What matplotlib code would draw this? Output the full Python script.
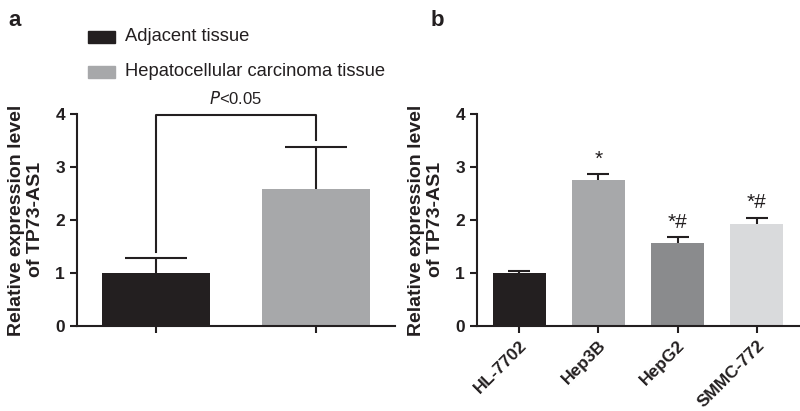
import matplotlib.pyplot as plt
import numpy as np

plt.rcParams['font.family'] = ['Liberation Sans', 'DejaVu Sans']

# panel a
tissues = ["Adjacent tissue", "Hepatocellular carcinoma tissue"]
tissue_mean = [1.0, 2.58]
tissue_err = [0.28, 0.79]
tissue_colors = ["#231f20", "#a7a8aa"]

# panel b
cell_lines = ["HL-7702", "Hep3B", "HepG2", "SMMC-772"]
cell_mean = [1.0, 2.75, 1.56, 1.93]
cell_err = [0.04, 0.12, 0.11, 0.11]
cell_colors = ["#231f20", "#a7a8aa", "#8a8b8d", "#d9dadc"]
cell_marks = ["", "*", "*#", "*#"]

ylab = "Relative expression level\nof TP73-AS1"
ink = "#231f20"

fig = plt.figure(figsize=(8, 4.11), dpi=100)
ax1 = fig.add_axes([0.096, 0.207, 0.398, 0.516])
ax2 = fig.add_axes([0.596, 0.207, 0.404, 0.516])


def style(ax):
    for s in ["top", "right"]:
        ax.spines[s].set_visible(False)
    for s in ["left", "bottom"]:
        ax.spines[s].set_linewidth(1.5)
        ax.spines[s].set_color(ink)
    ax.tick_params(width=1.5, length=5, color=ink, labelsize=12.5, labelcolor=ink)
    ax.set_ylim(0, 4)
    ax.set_yticks([0, 1, 2, 3, 4])
    ax.set_yticklabels(["0", "1", "2", "3", "4"], fontweight="bold")
    ax.set_ylabel(ylab, fontsize=14, fontweight="bold", labelpad=8, color=ink)


# ---- a
x1 = np.arange(len(tissues))
ax1.bar(x1, tissue_mean, width=0.675, color=tissue_colors, zorder=2)
ax1.errorbar(x1, tissue_mean, yerr=tissue_err, fmt="none",
             ecolor=ink, elinewidth=1.5, capsize=22, capthick=1.5, zorder=1)
ax1.set_xlim(-0.494, 1.494)
ax1.set_xticks(x1)
ax1.set_xticklabels([])
style(ax1)
ax1.plot([0, 0, 1, 1], [1.4, 3.98, 3.98, 3.5], color=ink, lw=1.5, clip_on=False)
ax1.text(0.5, 4.12, "$\\it{P}$<0.05", ha="center", va="bottom", fontsize=12, color=ink)

# legend
for i, (name, c) in enumerate(zip(tissues, tissue_colors)):
    y = 0.91 - i * 0.085
    fig.patches.append(plt.Rectangle((0.11, y - 0.014), 0.034, 0.028, color=c,
                                     transform=fig.transFigure, figure=fig))
    fig.text(0.156, y, name, va="center", fontsize=13.2, color=ink)

# ---- b
x2 = np.arange(len(cell_lines))
ax2.bar(x2, cell_mean, width=0.68, color=cell_colors, zorder=2)
ax2.errorbar(x2, cell_mean, yerr=cell_err, fmt="none",
             ecolor=ink, elinewidth=1.5, capsize=8, capthick=1.5, zorder=1)
for xi, m, e, s in zip(x2, cell_mean, cell_err, cell_marks):
    if s:
        ax2.text(xi, m + e + 0.1, s, ha="center", va="bottom", fontsize=15, color=ink)
ax2.set_xlim(-0.54, 3.55)
ax2.set_xticks(x2)
ax2.set_xticklabels(cell_lines, rotation=45, ha="right", rotation_mode="anchor",
                    fontweight="bold")
style(ax2)

fig.text(0.01, 0.975, "a", fontsize=16, fontweight="bold", va="top", color=ink)
fig.text(0.538, 0.975, "b", fontsize=16, fontweight="bold", va="top", color=ink)

fig.savefig("out.png", dpi=100)
